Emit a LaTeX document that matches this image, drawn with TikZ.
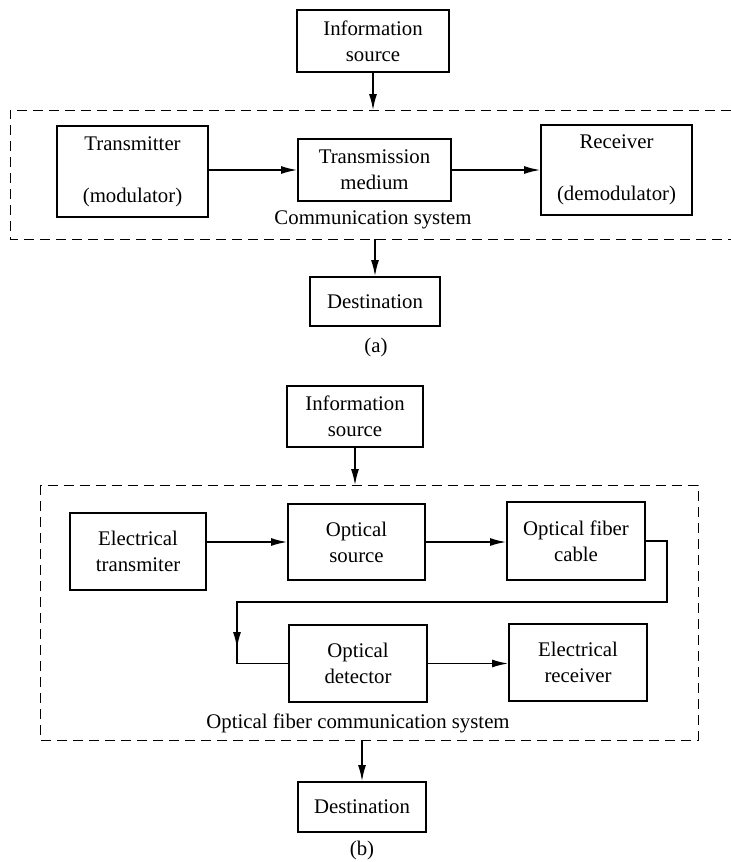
\documentclass[tikz,border=0pt]{standalone}
\usepackage{fontspec}
\setmainfont{Liberation Serif}
\usetikzlibrary{arrows.meta}

\begin{document}
\begin{tikzpicture}[
	x=0.5pt, y=-0.5pt,
	every node/.style={font=\fontsize{10.4}{13}\selectfont},
	blk/.style={draw, line width=1pt, align=center, inner sep=0pt},
	arr/.style={line width=0.7pt, -{Latex[length=8pt, width=4pt]}},
	sysbox/.style={dashed, line width=0.5pt, dash pattern=on 5pt off 3pt}
]
\useasboundingbox (0,0) rectangle (731,862);

% (a)
\node[blk, minimum width=76pt, minimum height=31pt] (srcA) at (373,41) {Information\\source};
\node[blk, minimum width=75.5pt, minimum height=45.5pt] (txA) at (132.5,171.5) {Transmitter\\[13pt](modulator)};
\node[blk, minimum width=76.5pt, minimum height=31pt] (medA) at (374.5,170) {Transmission\\medium};
\node[blk, minimum width=75.5pt, minimum height=45pt] (rxA) at (616.5,170) {Receiver\\[13pt](demodulator)};
\node (sysA) at (373,220) {Communication system};
\node[blk, minimum width=65pt, minimum height=24.5pt] (dstA) at (375,301.5) {Destination};
\node (capA) at (376,347) {(a)};
\coordinate (topA) at (373,110);
\coordinate (botA) at (375,239);
\draw[sysbox] (731,110) -- (10,110) -- (10,239) -- (731,239);
\draw[arr] (srcA.south) -- (topA);
\draw[arr] (txA.east |- medA.west) -- (medA.west);
\draw[arr] (medA.east) -- (rxA.west |- medA.east);
\draw[arr] (botA) -- (dstA.north);

% (b)
\node[blk, minimum width=68pt, minimum height=30.5pt] (srcB) at (355,416.5) {Information\\source};
\node[blk, minimum width=68pt, minimum height=38.5pt] (etx) at (138,551.5) {Electrical\\transmiter};
\node[blk, minimum width=68.5pt, minimum height=38pt] (osrc) at (356.5,542) {Optical\\source};
\node[blk, minimum width=69pt, minimum height=39pt] (cable) at (576,541) {Optical fiber\\cable};
\node[blk, minimum width=69pt, minimum height=38.5pt] (odet) at (358,663.5) {Optical\\detector};
\node[blk, minimum width=69pt, minimum height=38.5pt] (erx) at (578,662) {Electrical\\receiver};
\node (sysB) at (358,723) {Optical fiber communication system};
\node[blk, minimum width=64pt, minimum height=25pt] (dstB) at (362,807) {Destination};
\node (capB) at (362,850) {(b)};
\coordinate (topB) at (355,485);
\coordinate (botB) at (362,740);
\coordinate (bendR) at (667,602);
\coordinate (bendL) at (237,602);
\coordinate (tipB) at (237,648);
\coordinate (midB) at (237,630);
\draw[sysbox] (40,485) rectangle (698,740);
\draw[arr] (srcB.south) -- (topB);
\draw[arr] (osrc.west -| etx.east) -- (osrc.west);
\draw[arr] (osrc.east) -- (cable.west |- osrc.east);
\draw[arr] (cable.east) -| (bendR) -- (bendL) -- (tipB);
\draw[line width=0.7pt] (midB) |- (odet.west);
\draw[arr] (odet.east) -- (erx.west |- odet.east);
\draw[arr] (botB) -- (dstB.north);
\end{tikzpicture}
\end{document}
